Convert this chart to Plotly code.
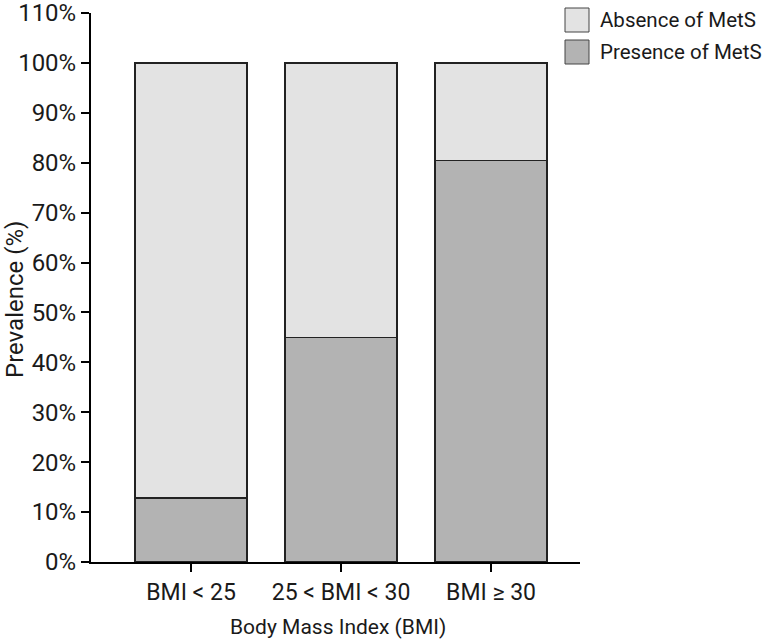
import plotly.graph_objects as go

categories = ["BMI < 25", "25 < BMI < 30", "BMI \u2265 30"]
presence = [12.8, 45.0, 80.4]
absence = [87.2, 55.0, 19.6]
y_ticks = list(range(0, 111, 10))
y_tick_labels = [f"{v}%" for v in y_ticks]

FONT = "Roboto, Liberation Sans, sans-serif"
ABS_COLOR = "#e3e3e3"
PRES_COLOR = "#b3b3b3"
EDGE = "#222222"
TEXT = "#1a1a1a"

fig = go.Figure()
fig.add_trace(go.Bar(
    x=categories, y=presence, name="Presence of MetS",
    marker={"color": PRES_COLOR, "line": {"color": EDGE, "width": 1.5}},
    width=0.747, showlegend=False,
))
fig.add_trace(go.Bar(
    x=categories, y=absence, name="Absence of MetS",
    marker={"color": ABS_COLOR, "line": {"color": EDGE, "width": 1.5}},
    width=0.747, showlegend=False,
))

# plot area in pixels: left 91, right 580, top 13, bottom 562
L, R, T, B = 91, 580, 13, 562


def px_x(p):
    return (p - L) / (R - L)


def px_y(p):
    return (B - p) / (B - T)


legend_items = [("Absence of MetS", ABS_COLOR, 8), ("Presence of MetS", PRES_COLOR, 40)]
shapes = []
annotations = []
for label, color, top in legend_items:
    shapes.append(dict(
        type="rect", xref="paper", yref="paper",
        x0=px_x(565), x1=px_x(589), y0=px_y(top + 24), y1=px_y(top),
        fillcolor=color, line={"color": "#444444", "width": 1},
    ))
    annotations.append(dict(
        text=label, xref="paper", yref="paper", x=px_x(598), y=px_y(top + 12),
        xanchor="left", yanchor="middle", showarrow=False,
        font={"family": FONT, "size": 20.5, "color": TEXT},
    ))

annotations.append(dict(
    text="Prevalence (%)", xref="paper", yref="paper", x=px_x(15), y=px_y(300),
    xanchor="center", yanchor="middle", textangle=-90, showarrow=False,
    font={"family": FONT, "size": 24, "color": TEXT},
))
annotations.append(dict(
    text="Body Mass Index (BMI)", xref="paper", yref="paper", x=px_x(338), y=px_y(627),
    xanchor="center", yanchor="middle", showarrow=False,
    font={"family": FONT, "size": 21, "color": TEXT},
))

fig.update_layout(
    barmode="stack",
    width=768, height=644,
    margin={"l": L, "r": 768 - R, "t": T, "b": 644 - B},
    plot_bgcolor="white", paper_bgcolor="white",
    font={"family": FONT, "size": 21, "color": TEXT},
    shapes=shapes, annotations=annotations,
)
fig.update_xaxes(
    range=[-0.667, 2.593], showline=True, linecolor="black", linewidth=2,
    ticks="outside", ticklen=8, tickwidth=2, tickcolor="black",
    tickfont={"family": FONT, "size": 23, "color": TEXT},
    showgrid=False, automargin=False,
)
fig.update_yaxes(
    range=[0, 110], tickvals=y_ticks, ticktext=y_tick_labels,
    showline=True, linecolor="black", linewidth=2,
    ticks="outside", ticklen=8, tickwidth=2, tickcolor="black",
    tickfont={"family": FONT, "size": 24, "color": TEXT},
    ticklabeloverflow="allow",
    showgrid=False, zeroline=False, automargin=False,
)

# drop the browser's default body margin so the figure fills the window
fig.write_html(
    "out.html",
    config={"displayModeBar": False},
    post_script="document.body.style.margin='0';document.body.style.overflow='hidden';",
)
